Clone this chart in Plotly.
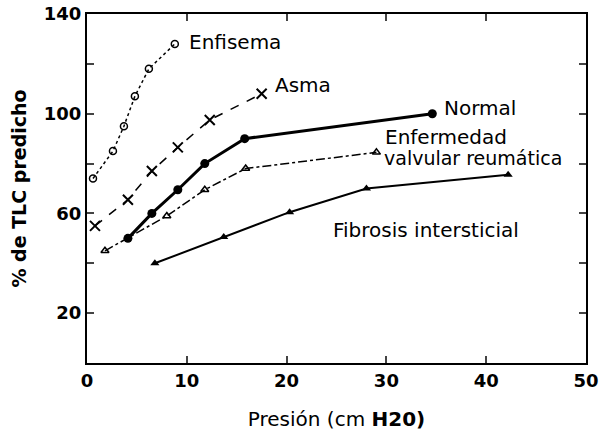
import plotly.graph_objects as go

# Data
enf_x = [0.6, 2.6, 3.7, 4.8, 6.2, 8.8]
enf_y = [74, 85, 95, 107, 118, 128]

asma_x = [0.8, 4.1, 6.5, 9.1, 12.3, 17.5]
asma_y = [55, 65.5, 77, 86.5, 97.5, 108]

normal_x = [4.1, 6.5, 9.1, 11.8, 15.8, 34.6]
normal_y = [50, 60, 69.5, 80, 90, 100]

valv_x = [1.8, 8.0, 11.8, 15.9, 29.0]
valv_y = [45, 59, 69.5, 78, 84.5]

fib_x = [6.8, 13.7, 20.3, 28.0, 42.2]
fib_y = [40, 50.5, 60.5, 70, 75.5]

x_ticks = [0, 10, 20, 30, 40, 50]
y_ticks = [20, 40, 60, 80, 100, 120, 140]
y_ticktext = ["20", "", "60", "", "100", "", "140"]

FONT = "DejaVu Sans"
fig = go.Figure()

fig.add_trace(go.Scatter(x=enf_x, y=enf_y, mode="lines+markers",
                         line=dict(color="black", width=1.5, dash="dot"),
                         marker=dict(symbol="circle-open", size=7, color="black", line=dict(width=1.5))))
fig.add_trace(go.Scatter(x=asma_x, y=asma_y, mode="lines+markers",
                         line=dict(color="black", width=1.5, dash="dash"),
                         marker=dict(symbol="x-thin-open", size=10, color="black", line=dict(width=2, color="black"))))
fig.add_trace(go.Scatter(x=normal_x, y=normal_y, mode="lines+markers",
                         line=dict(color="black", width=3),
                         marker=dict(symbol="circle", size=9, color="black")))
fig.add_trace(go.Scatter(x=valv_x, y=valv_y, mode="lines+markers",
                         line=dict(color="black", width=1.5, dash="dashdot"),
                         marker=dict(symbol="triangle-up-open", size=7, color="black", line=dict(width=1.5))))
fig.add_trace(go.Scatter(x=fib_x, y=fib_y, mode="lines+markers",
                         line=dict(color="black", width=2),
                         marker=dict(symbol="triangle-up", size=8, color="black")))

labels = [
    ("Enfisema", 10.1, 128.8, 20),
    ("Asma", 18.7, 111.6, 20),
    ("Normal", 35.7, 102.2, 20),
    ("Enfermedad", 29.8, 90.6, 20),
    ("valvular reumática", 29.7, 82.4, 19),
    ("Fibrosis intersticial", 24.5, 53.2, 20),
]
for t, x, y, s in labels:
    fig.add_annotation(x=x, y=y, text=t, showarrow=False, xanchor="left", yanchor="middle",
                       borderpad=0,
                       font=dict(family=FONT, size=s, color="black"))

fig.update_layout(
    width=601, height=435,
    margin=dict(l=87, r=15, t=14, b=72),
    paper_bgcolor="white", plot_bgcolor="white",
    showlegend=False,
    font=dict(family=FONT, color="black"),
)
fig.update_xaxes(range=[0, 50], tickvals=x_ticks, ticks="inside", ticklen=7, tickwidth=2,
                 showline=True, linecolor="black", linewidth=2, mirror="ticks",
                 showgrid=False, zeroline=False, automargin=False,
                 tickfont=dict(family=FONT, size=18, color="black", weight="bold"),
                 title=dict(text="Presión (cm <b>H20)</b>", font=dict(family=FONT, size=20), standoff=22))
fig.update_yaxes(range=[0, 140], tickvals=y_ticks, ticktext=y_ticktext, ticks="inside", ticklen=7, tickwidth=2,
                 showline=True, linecolor="black", linewidth=2, mirror="ticks",
                 showgrid=False, zeroline=False, automargin=False,
                 tickfont=dict(family=FONT, size=18, color="black", weight="bold"),
                 title=dict(text="<b>% de TLC predicho</b>", font=dict(family=FONT, size=19), standoff=12))

fig.write_html("out.html")
